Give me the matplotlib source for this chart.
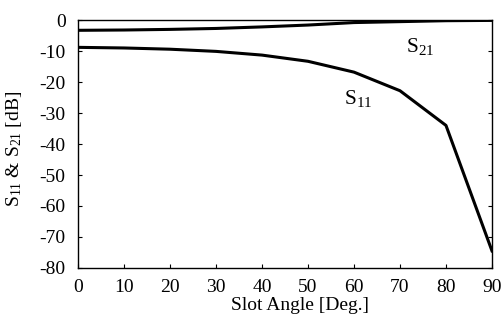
import matplotlib
matplotlib.use('Agg')
import matplotlib.pyplot as plt

plt.rcParams['font.family'] = 'Liberation Serif'
plt.rcParams['mathtext.fontset'] = 'custom'
plt.rcParams['mathtext.rm'] = 'Liberation Serif'
plt.rcParams['mathtext.it'] = 'Liberation Serif'
plt.rcParams['axes.unicode_minus'] = False

angle = [0, 10, 20, 30, 40, 50, 60, 70, 80, 90]
s11 = [-8.8, -9.0, -9.4, -10.1, -11.3, -13.3, -16.8, -22.8, -34.0, -74.5]
s21 = [-3.3, -3.2, -3.0, -2.7, -2.2, -1.6, -0.8, -0.5, -0.2, -0.1]

fig = plt.figure(figsize=(5.01, 3.24), dpi=100)
ax = fig.add_axes([0.1557, 0.173, 0.8263, 0.765])

ax.plot(angle, s11, color='black', linewidth=2.2)
ax.plot(angle, s21, color='black', linewidth=2.2)

ax.set_xlim(0, 90)
ax.set_ylim(-80, 0)
ax.set_xticks(range(0, 91, 10))
ax.set_yticks(range(-80, 1, 10))
ax.tick_params(direction='in', length=3, labelsize=14, right=True, top=False, width=0.8)
ax.tick_params(axis='x', pad=8)
ax.tick_params(axis='y', pad=9)

for s in ax.spines.values():
    s.set_linewidth(1.0)

ax.text(74.3, -8.5, r'S$_{21}$', fontsize=15.5, ha='center', va='center')
ax.text(61, -25.2, r'S$_{11}$', fontsize=15.5, ha='center', va='center')

ax.set_xlabel('Slot Angle [Deg.]', fontsize=14)
ax.xaxis.set_label_coords(0.537, -0.117)
ax.set_ylabel(r'S$_{11}$ & S$_{21}$ [dB]', fontsize=14)
ax.yaxis.set_label_coords(-0.13, 0.48)

fig.savefig('out.png', dpi=100)
